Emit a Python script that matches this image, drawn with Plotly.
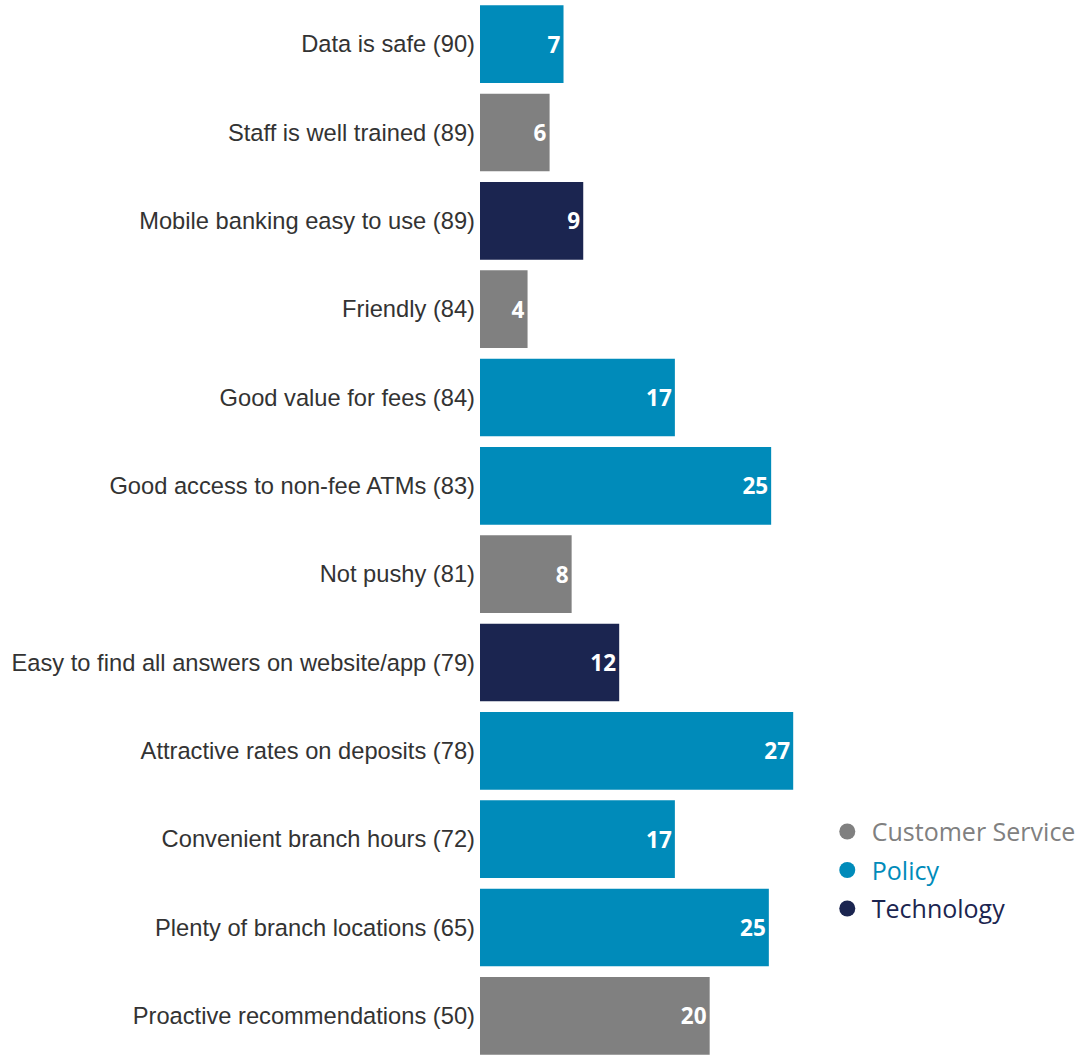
import plotly.graph_objects as go

categories = [
    "Data is safe (90)",
    "Staff is well trained (89)",
    "Mobile banking easy to use (89)",
    "Friendly (84)",
    "Good value for fees (84)",
    "Good access to non-fee ATMs (83)",
    "Not pushy (81)",
    "Easy to find all answers on website/app (79)",
    "Attractive rates on deposits (78)",
    "Convenient branch hours (72)",
    "Plenty of branch locations (65)",
    "Proactive recommendations (50)",
]
values = [7.2, 6.0, 8.9, 4.1, 16.8, 25.1, 7.9, 12.0, 27.0, 16.8, 24.9, 19.8]
groups = ["Policy", "Customer Service", "Technology", "Customer Service", "Policy", "Policy",
          "Customer Service", "Technology", "Policy", "Policy", "Policy", "Customer Service"]
group_order = ["Customer Service", "Policy", "Technology"]
colors = {"Customer Service": "#808080", "Policy": "#008BBA", "Technology": "#1B2550"}

fig = go.Figure()
for g in group_order:
    ys = [c for c, gg in zip(categories, groups) if gg == g]
    xs = [v for v, gg in zip(values, groups) if gg == g]
    fig.add_trace(go.Bar(
        y=ys, x=xs, orientation="h", name=g, showlegend=False,
        marker=dict(color=colors[g], line=dict(width=0)),
        texttemplate="%{x:.0f}", textposition="inside", insidetextanchor="end",
        textfont=dict(color="white", size=22.5, family="Open Sans", weight="bold"),
        cliponaxis=False,
    ))
for g in group_order:
    fig.add_trace(go.Scatter(
        x=[None], y=[None], mode="markers", legendgroup=g,
        name=f"<span style='color:{colors[g]}'>{g}</span>",
        marker=dict(color=colors[g], size=22, symbol="circle"),
    ))

fig.update_layout(
    width=1089, height=1060,
    margin=dict(l=480, r=260.5, t=0, b=0),
    paper_bgcolor="white", plot_bgcolor="white",
    barmode="relative", bargap=0.12,
    showlegend=True,
    legend=dict(x=0.985, xanchor="left", y=0.179, yanchor="middle",
                font=dict(size=25, family="Open Sans"), tracegroupgap=3,
                itemwidth=39, bgcolor="rgba(0,0,0,0)"),
    xaxis=dict(range=[0, 30], visible=False, fixedrange=True),
    yaxis=dict(categoryorder="array", categoryarray=categories, autorange="reversed",
               showgrid=False, zeroline=False, showline=False, ticks="",
               tickfont=dict(family="Liberation Sans, Arial", size=23.7, color="#333333"),
               ticklabelstandoff=4),
)
fig.write_html("out.html")
